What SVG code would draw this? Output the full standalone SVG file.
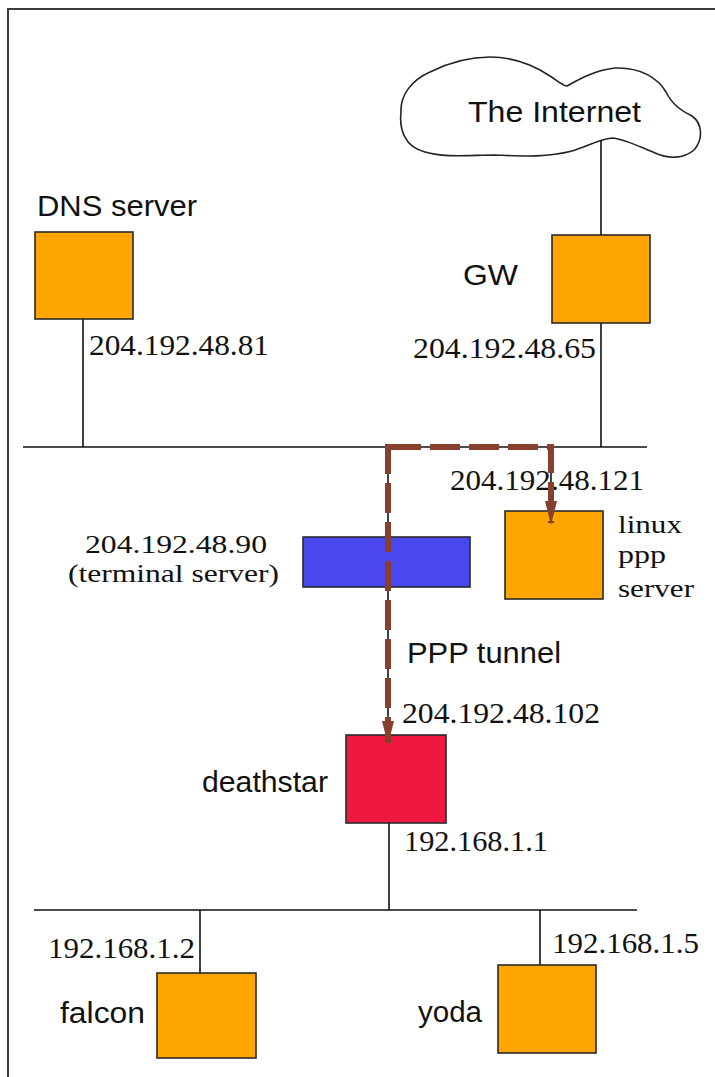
<svg xmlns="http://www.w3.org/2000/svg" width="715" height="1077" viewBox="0 0 715 1077">
<style>
.bg{fill:#ffffff}
.frame{fill:none;stroke:#3a3a3a;stroke-width:2}
.box{stroke:#2a2a2a;stroke-width:1.6}
.host{fill:#FFA500}
.ts{fill:#4848EE}
.ds{fill:#EE1840}
.wire{stroke:#111;stroke-width:1.6;fill:none}
.tunnel{stroke:#86402D;stroke-width:6;fill:none;stroke-dasharray:30 9}
.sans{font-family:"Liberation Sans",Arial,sans-serif;font-size:30px;fill:#111}
.serif{font-family:"Liberation Serif","Times New Roman",serif;font-size:30px;fill:#111}
.small{font-size:26px}
.cloud{fill:#fff;stroke:#222;stroke-width:1.6}
</style>
<defs>
<marker id="ah" markerUnits="userSpaceOnUse" viewBox="0 0 24 14" markerWidth="24" markerHeight="14" refX="22" refY="7" orient="auto">
<path d="M0,1 L24,7 L0,13 z" fill="#86402D"/>
</marker>
</defs>
<rect class="bg" x="0" y="0" width="715" height="1077"/>
<rect class="frame" x="8" y="9" width="720" height="1080"/>

<g id="internet">
<path class="cloud" d="M401,112 C400,95 412,80 430,72 C450,62 470,57 490,57 C515,57 535,66 550,76 C558,81 563,86 567,86 C578,80 595,70 615,68 C640,67 658,78 666,92 C672,104 680,110 692,116 C703,124 703,140 694,150 C684,159 668,159 655,153 C640,147 625,139 612,138 C600,139 588,146 572,151 C545,158 520,156 495,155 C470,155 445,158 425,152 C405,147 399,130 401,112 z"/>
<text class="sans" x="468" y="122" textLength="173" lengthAdjust="spacingAndGlyphs">The Internet</text>
</g>

<g id="connectors">
<line class="wire" x1="601" y1="140" x2="601" y2="235"/>
<line class="wire" x1="601" y1="323" x2="601" y2="447"/>
<line class="wire" x1="83" y1="319" x2="83" y2="447"/>
<line class="wire" x1="23" y1="447" x2="647" y2="447"/>
<line class="wire" x1="551" y1="447" x2="551" y2="511"/>
<line class="wire" x1="388" y1="447" x2="388" y2="735"/>
<line class="wire" x1="389" y1="823" x2="389" y2="910"/>
<line class="wire" x1="34" y1="910" x2="637" y2="910"/>
<line class="wire" x1="200" y1="910" x2="200" y2="973"/>
<line class="wire" x1="540" y1="910" x2="540" y2="965"/>
</g>

<g id="dns">
<rect class="box host" x="35" y="232" width="98" height="87"/>
<text class="sans" x="37" y="216" textLength="160" lengthAdjust="spacingAndGlyphs">DNS server</text>
<text class="serif" x="89" y="355" textLength="180" lengthAdjust="spacingAndGlyphs">204.192.48.81</text>
</g>

<g id="gw">
<rect class="box host" x="552" y="235" width="98" height="88"/>
<text class="sans" x="463" y="285" textLength="55" lengthAdjust="spacingAndGlyphs">GW</text>
<text class="serif" x="413" y="358" textLength="183" lengthAdjust="spacingAndGlyphs">204.192.48.65</text>
</g>

<g id="terminal-server">
<rect class="box ts" x="303" y="537" width="167" height="50"/>
<text class="serif small" x="85" y="553" textLength="182" lengthAdjust="spacingAndGlyphs">204.192.48.90</text>
<text class="serif small" x="68" y="582" textLength="211" lengthAdjust="spacingAndGlyphs">(terminal server)</text>
</g>

<g id="linux-ppp-server">
<rect class="box host" x="505" y="511" width="98" height="88"/>
<text class="serif" x="450" y="490" textLength="194" lengthAdjust="spacingAndGlyphs">204.192.48.121</text>
<text class="serif small" x="618" y="533" textLength="64" lengthAdjust="spacingAndGlyphs">linux</text>
<text class="serif small" x="618" y="563" textLength="48" lengthAdjust="spacingAndGlyphs">ppp</text>
<text class="serif small" x="618" y="597" textLength="76" lengthAdjust="spacingAndGlyphs">server</text>
</g>

<g id="deathstar">
<rect class="box ds" x="346" y="735" width="100" height="88"/>
<text class="sans" x="202" y="792" textLength="126" lengthAdjust="spacingAndGlyphs">deathstar</text>
<text class="serif" x="402" y="723" textLength="198" lengthAdjust="spacingAndGlyphs">204.192.48.102</text>
<text class="serif" x="404" y="851" textLength="144" lengthAdjust="spacingAndGlyphs">192.168.1.1</text>
</g>

<g id="falcon">
<rect class="box host" x="157" y="973" width="99" height="85"/>
<text class="sans" x="60" y="1023" textLength="85" lengthAdjust="spacingAndGlyphs">falcon</text>
<text class="serif" x="48" y="958" textLength="147" lengthAdjust="spacingAndGlyphs">192.168.1.2</text>
</g>

<g id="yoda">
<rect class="box host" x="498" y="965" width="98" height="88"/>
<text class="sans" x="418" y="1022" textLength="64" lengthAdjust="spacingAndGlyphs">yoda</text>
<text class="serif" x="552" y="953" textLength="147" lengthAdjust="spacingAndGlyphs">192.168.1.5</text>
</g>

<g id="ppp-tunnel">
<path class="tunnel" d="M388,444 V743" marker-end="url(#ah)"/>
<path class="tunnel" d="M391,447 H551 V523" marker-end="url(#ah)"/>
<text class="sans" x="407" y="663" textLength="154" lengthAdjust="spacingAndGlyphs">PPP tunnel</text>
</g>
</svg>
